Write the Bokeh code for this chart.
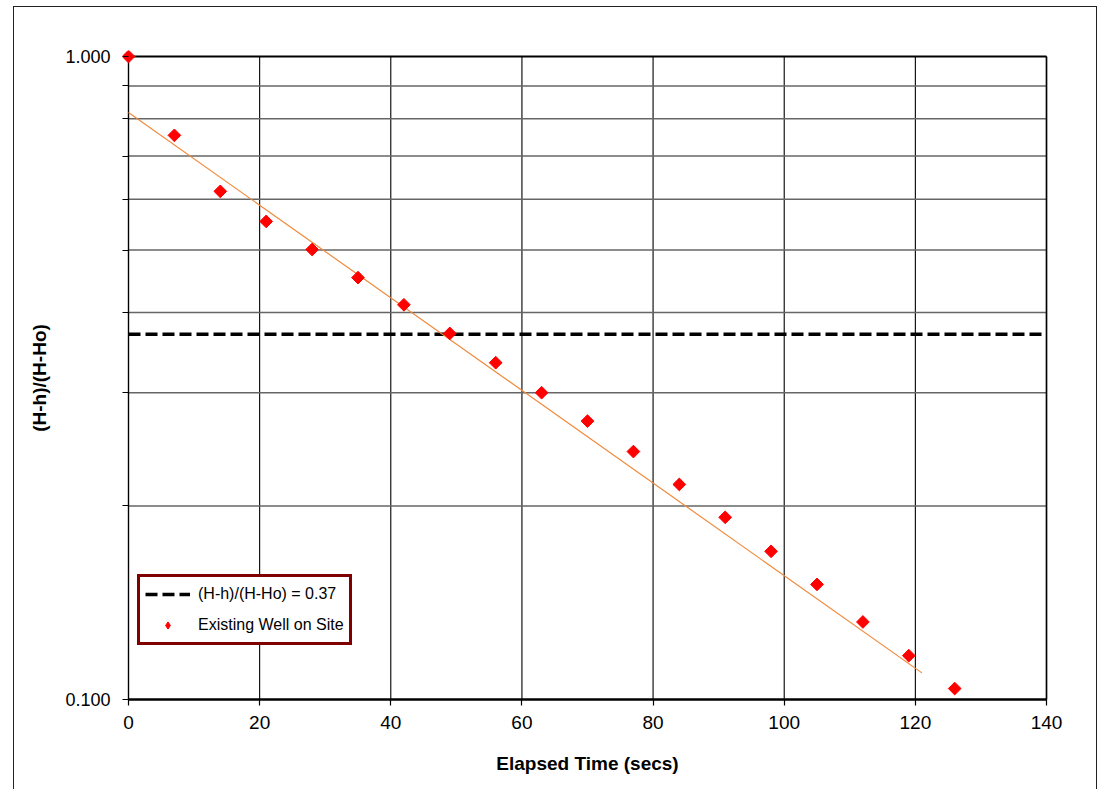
from bokeh.plotting import figure
from bokeh.models import Range1d, FixedTicker, PrintfTickFormatter, Legend, LegendItem
from bokeh.embed import file_html
from bokeh.resources import INLINE
import numpy as np

# data
elapsed_time = [0, 7, 14, 21, 28, 35, 42, 49, 56, 63, 70, 77, 84, 91, 98, 105, 112, 119, 126]
head_ratio = [1.000, 0.754, 0.617, 0.554, 0.501, 0.453, 0.411, 0.371, 0.334, 0.300,
              0.271, 0.243, 0.216, 0.192, 0.170, 0.151, 0.132, 0.117, 0.104]
trend_x = [0, 121]
trend_y = [0.818, 0.110]
threshold = 0.37
x_lim = [0, 140]
y_lim = [0.1, 1.0]
x_ticks = [0, 20, 40, 60, 80, 100, 120, 140]
y_major = [0.1, 1.0]
y_minor = [0.2, 0.3, 0.4, 0.5, 0.6, 0.7, 0.8, 0.9]

FONT = "Liberation Sans"

# layout: the data box is 918 x 643 px; the frame is padded so edge markers are not clipped
PAD = 6
BOX_W, BOX_H = 918, 643
dx = PAD * (x_lim[1] - x_lim[0]) / BOX_W
ky = 10 ** (PAD * np.log10(y_lim[1] / y_lim[0]) / BOX_H)

p = figure(width=1084, height=783, y_axis_type="log",
           x_range=Range1d(x_lim[0] - dx, x_lim[1] + dx),
           y_range=Range1d(y_lim[0] / ky, y_lim[1] * ky),
           output_backend="svg", toolbar_location=None,
           min_border_left=109, min_border_top=44, min_border_right=45, min_border_bottom=84,
           margin=(6, 0, 0, 13))
p.styles = {"background-color": "white",
            "box-shadow": "inset 1px 1px 0 0 #222, inset -1px 0 0 0 #222"}
p.background_fill_color = None
p.border_fill_color = None
p.outline_line_color = None
p.xgrid.visible = False
p.ygrid.visible = False

# axes
p.xaxis.ticker = FixedTicker(ticks=x_ticks)
p.yaxis.ticker = FixedTicker(ticks=y_major, minor_ticks=y_minor)
p.yaxis.formatter = PrintfTickFormatter(format="%.3f")
for ax in (p.xaxis[0], p.yaxis[0]):
    ax.major_label_text_font = FONT
    ax.major_label_text_color = "black"
    ax.axis_label_text_font = FONT
    ax.axis_label_text_font_size = "19px"
    ax.axis_label_text_font_style = "bold"
    ax.axis_label_text_color = "black"
    ax.axis_line_color = None
    ax.major_tick_line_color = "black"
    ax.major_tick_line_width = 1.2
    ax.major_tick_in = PAD
    ax.major_tick_out = 0
p.xaxis.axis_label = "Elapsed Time (secs)"
p.yaxis.axis_label = "(H-h)/(H-Ho)"
p.xaxis.major_label_text_font_size = "19px"
p.yaxis.major_label_text_font_size = "18px"
p.xaxis.minor_tick_line_color = None
p.xaxis.major_label_standoff = 10
p.xaxis.axis_label_standoff = 21
p.yaxis.minor_tick_line_color = "black"
p.yaxis.minor_tick_line_width = 1.2
p.yaxis.minor_tick_in = PAD
p.yaxis.minor_tick_out = 0
p.yaxis.major_label_standoff = 12
p.yaxis.axis_label_standoff = 12

# grid lines (from the tick lists)
nx, ny = len(x_ticks), len(y_minor)
p.segment(x0=x_ticks, y0=[y_lim[0]] * nx, x1=x_ticks, y1=[y_lim[1]] * nx,
          line_color="black", line_width=1.1)
p.segment(x0=[x_lim[0]] * ny, y0=y_minor, x1=[x_lim[1]] * ny, y1=y_minor,
          line_color="#666666", line_width=1.5)
# plot-area box
p.line(x=x_lim, y=[y_lim[1], y_lim[1]], line_color="black", line_width=2)
p.line(x=[x_lim[1], x_lim[1]], y=y_lim, line_color="black", line_width=1.6)
p.line(x=[x_lim[0], x_lim[0]], y=y_lim, line_color="black", line_width=1.3)
p.line(x=x_lim, y=[y_lim[0], y_lim[0]], line_color="black", line_width=2.5)

# threshold line
thr = p.line(x=x_lim, y=[threshold, threshold], line_color="black",
             line_width=3.5, line_dash="12 5")
# trend line
p.line(x=trend_x, y=trend_y, line_color="#F08A3C", line_width=1.2)
# data points
pts = p.scatter(x=elapsed_time, y=head_ratio, marker="square", angle=np.pi / 4,
                size=9, fill_color="red", line_color="red")
# legend swatch for the points (same data, hidden in the plot)
pts_key = p.scatter(x=elapsed_time, y=head_ratio, marker="diamond",
                    fill_color="red", line_color="red", visible=False)

legend = Legend(items=[LegendItem(label="(H-h)/(H-Ho) = 0.37", renderers=[thr]),
                       LegendItem(label="Existing Well on Site", renderers=[pts_key])],
                location=(15, 60))
legend.label_text_font = FONT
legend.label_text_font_size = "16px"
legend.label_text_color = "black"
legend.border_line_color = "#800000"
legend.border_line_alpha = 1
legend.border_line_width = 3
legend.background_fill_color = "white"
legend.background_fill_alpha = 1
legend.padding = 5
legend.spacing = 7
legend.glyph_width = 45
legend.glyph_height = 18
legend.label_height = 24
legend.label_standoff = 8
legend.margin = 0
p.add_layout(legend, "center")

open("out.html", "w").write(file_html(p, INLINE))
